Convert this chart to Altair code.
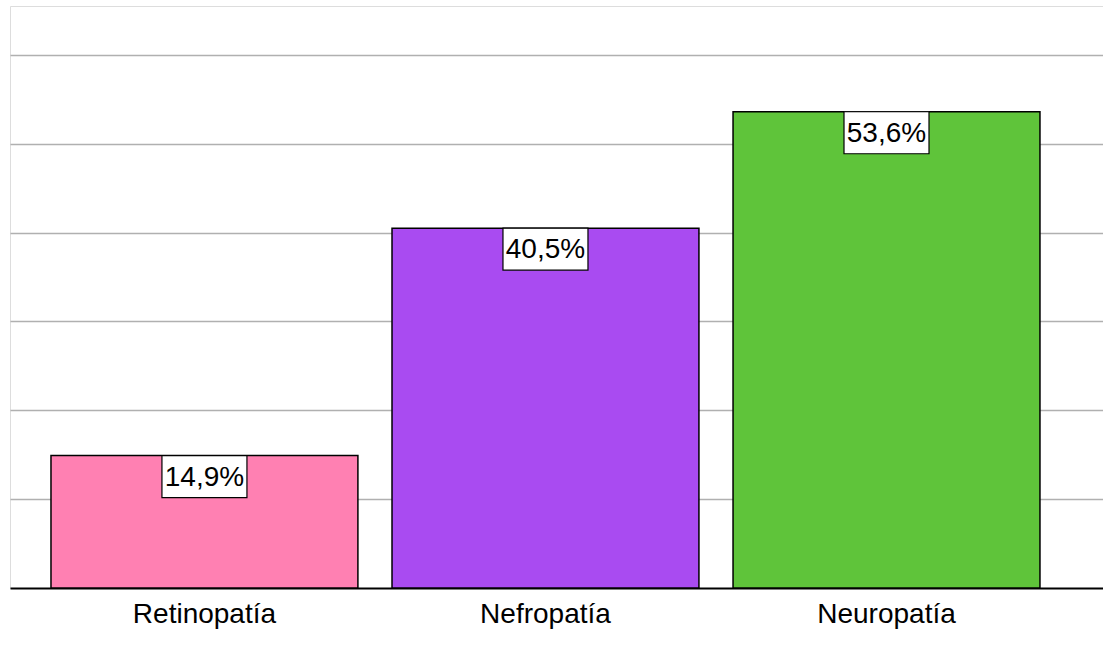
import altair as alt
import pandas as pd

categories = ["Retinopatía", "Nefropatía", "Neuropatía"]
values = [14.9, 40.5, 53.6]
labels = ["14,9%", "40,5%", "53,6%"]
colors = ["#FF80B2", "#A94BF1", "#5FC43A"]

df = pd.DataFrame({"cat": categories, "value": values, "label": labels})

x = alt.X(
    "cat:N",
    sort=categories,
    title=None,
    scale=alt.Scale(paddingInner=0.1, paddingOuter=0.1525, align=0.394),
    axis=alt.Axis(
        labelAngle=0,
        labelFontSize=28,
        labelFont="Liberation Sans",
        labelColor="black",
        labelPadding=12,
        ticks=False,
        domainColor="black",
        domainWidth=2,
        grid=False,
    ),
)
y_scale = alt.Scale(domain=[0, 65.5], nice=False)

bars = alt.Chart(df).mark_bar(stroke="black", strokeWidth=1.5).encode(
    x=x,
    y=alt.Y(
        "value:Q",
        scale=y_scale,
        title=None,
        axis=alt.Axis(
            values=[10, 20, 30, 40, 50, 60],
            labels=False,
            ticks=False,
            domain=False,
            grid=True,
            gridColor="#b0b0b0",
            gridWidth=1.5,
        ),
    ),
    color=alt.Color("cat:N", scale=alt.Scale(domain=categories, range=colors), legend=None),
)

# white label boxes hanging from the top of each bar
boxes = (
    alt.Chart(df)
    .transform_calculate(bottom="datum.value - 4.73")
    .mark_bar(width=85, fill="white", stroke="black", strokeWidth=1.2)
    .encode(x=x, y=alt.Y("value:Q", scale=y_scale), y2="bottom:Q")
)

text = alt.Chart(df).mark_text(
    fontSize=28, font="Liberation Sans", color="black", baseline="middle", dy=22
).encode(x=x, y=alt.Y("value:Q", scale=y_scale), text="label:N")

chart = (
    alt.layer(bars, boxes, text)
    .properties(
        width=1093,
        height=582,
        padding={"left": 10, "top": 6, "right": 0, "bottom": 60},
        autosize="none",
    )
    .configure_view(stroke="#d8e3f3", strokeWidth=2)
    .configure(background="white")
)

chart.save("out.html", embed_options={"renderer": "svg", "actions": False})
